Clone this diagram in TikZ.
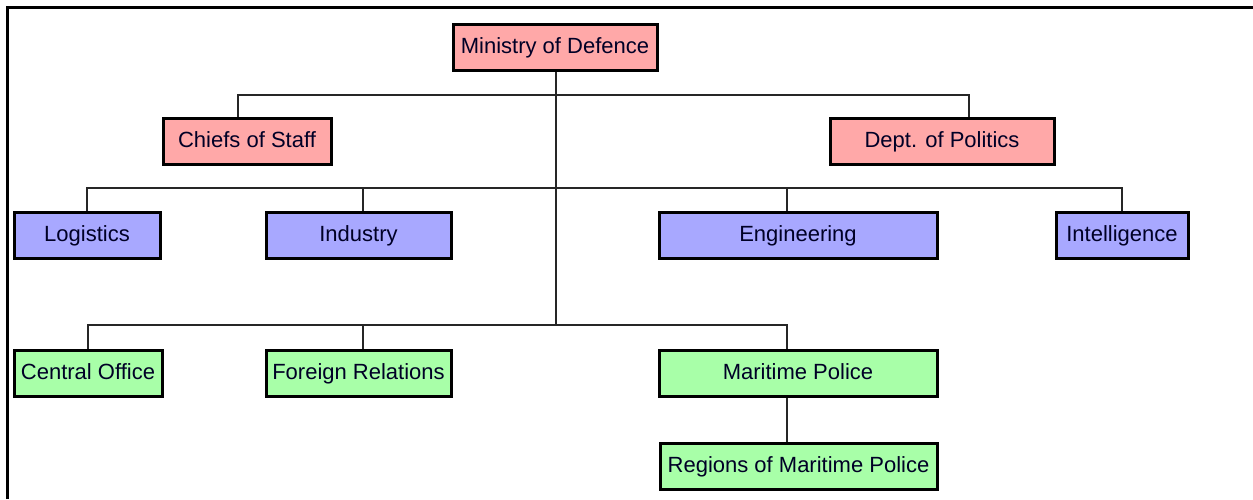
\documentclass[tikz,border=0pt]{standalone}
\usepackage{fontspec}
\setmainfont{Liberation Sans}
\definecolor{pinkbox}{HTML}{FFA8A8}
\definecolor{bluebox}{HTML}{A8A8FF}
\definecolor{greenbox}{HTML}{A8FFA8}
\begin{document}
\begin{tikzpicture}[x=1pt,y=-1pt,
  box/.style={draw=black,line width=3pt,minimum height=46pt,inner sep=0pt,
    text height=16pt,text depth=4pt,
    font=\fontsize{22}{26}\selectfont,text=black!85!blue},
  pinkb/.style={box,fill=pinkbox},
  blueb/.style={box,fill=bluebox},
  greenb/.style={box,fill=greenbox},
  conn/.style={line width=1.5pt,draw=black!85}]
\useasboundingbox (0,0) rectangle (1253,499);
\draw[line width=3pt] (7,499) -- (7,7) -- (1253,7);

\node[pinkb,minimum width=204pt] (mod) at (555,47) {Ministry of Defence};
\node[pinkb,minimum width=168pt] (cos) at (247,141) {Chiefs of Staff};
\node[pinkb,minimum width=224pt] (dop) at (942,141) {Dept. of Politics};
\node[blueb,minimum width=146pt] (log) at (87,235) {Logistics};
\node[blueb,minimum width=185pt] (ind) at (358.5,235) {Industry};
\node[blueb,minimum width=278pt] (eng) at (798,235) {Engineering};
\node[blueb,minimum width=132pt] (int) at (1122,235) {Intelligence};
\node[greenb,minimum width=148pt] (co) at (88,373) {Central Office};
\node[greenb,minimum width=185pt] (fr) at (358.5,373) {Foreign Relations};
\node[greenb,minimum width=278pt] (mp) at (798,373) {Maritime Police};
\node[greenb,minimum width=277pt] (rmp) at (798.5,466) {Regions of Maritime Police};

\coordinate (b1) at (556,95);
\coordinate (b2) at (556,188);
\coordinate (b3) at (556,325);

\draw[conn] ([xshift=1pt]mod.south) -- (b3);
\draw[conn] ([xshift=-9pt]cos.north) |- (b1) -| ([xshift=27pt]dop.north);
\draw[conn] (log.north) |- (b2) -| (int.north);
\draw[conn] ([xshift=4.5pt]ind.north) -- ([xshift=4.5pt]ind.north |- b2);
\draw[conn] ([xshift=-11pt]eng.north) -- ([xshift=-11pt]eng.north |- b2);
\draw[conn] (co.north) |- (b3) -| ([xshift=-11pt]mp.north);
\draw[conn] ([xshift=4.5pt]fr.north) -- ([xshift=4.5pt]fr.north |- b3);
\draw[conn] ([xshift=-11pt]mp.south) -- ([xshift=-11.5pt]rmp.north);
\end{tikzpicture}
\end{document}
